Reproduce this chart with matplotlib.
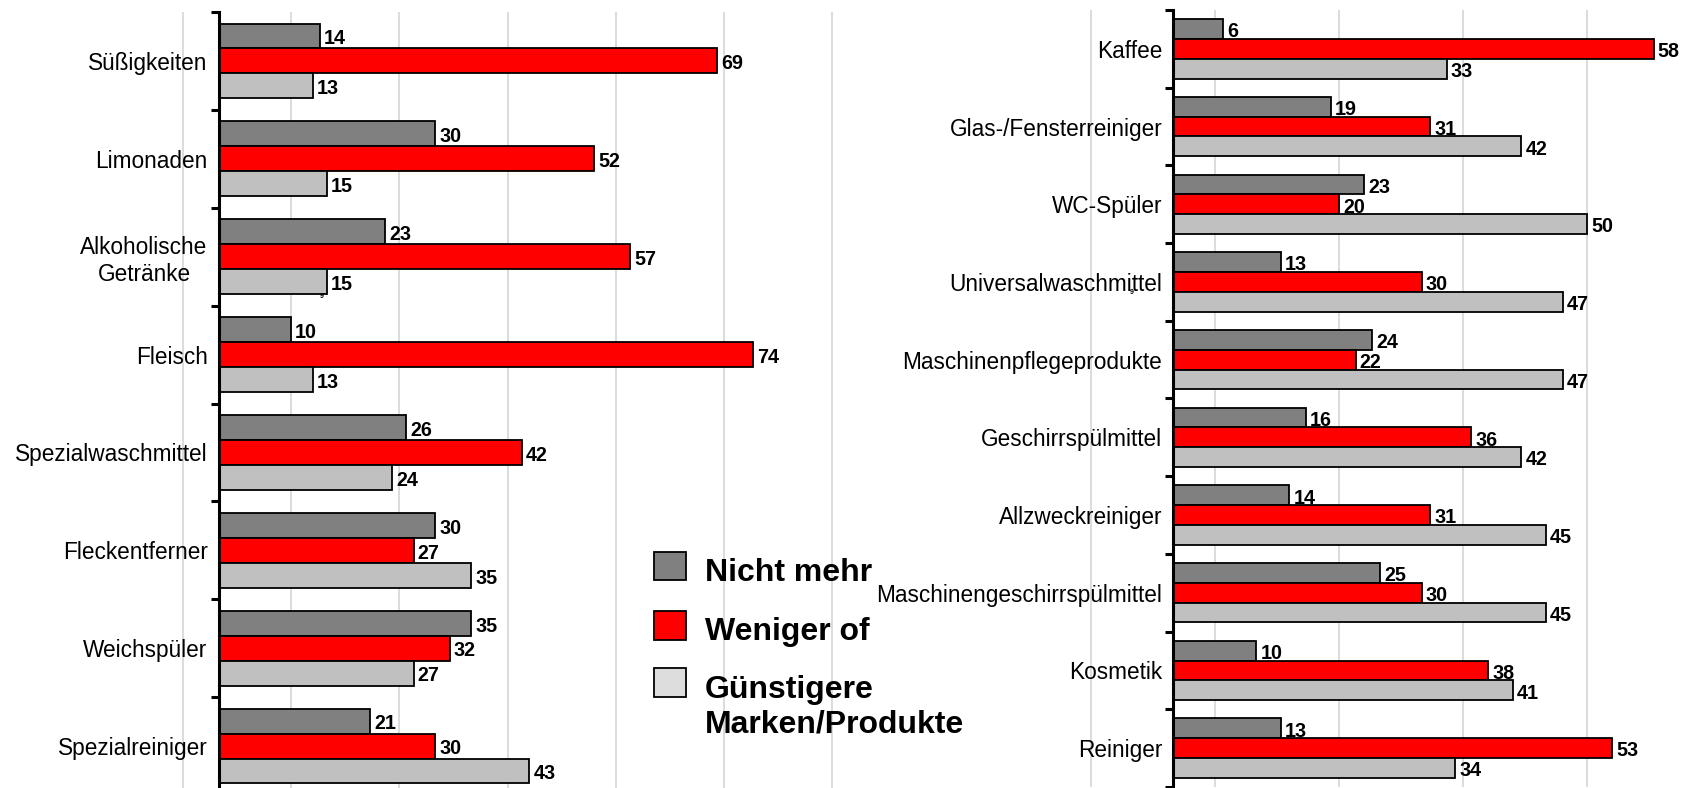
import numpy as np
import matplotlib
matplotlib.use('Agg')
from matplotlib import pyplot as plt
from matplotlib.patches import Patch, Rectangle
from matplotlib.legend_handler import HandlerPatch

plt.rcParams['font.family'] = ['Liberation Sans', 'DejaVu Sans']

# left panel
left_cats = ['Süßigkeiten', 'Limonaden', 'Alkoholische\nGetränke', 'Fleisch',
             'Spezialwaschmittel', 'Fleckentferner', 'Weichspüler', 'Spezialreiniger']
left_nicht_mehr = [14, 30, 23, 10, 26, 30, 35, 21]
left_weniger = [69, 52, 57, 74, 42, 27, 32, 30]
left_guenstiger = [13, 15, 15, 13, 24, 35, 27, 43]

# right panel
right_cats = ['Kaffee', 'Glas-/Fensterreiniger', 'WC-Spüler', 'Universalwaschmittel',
              'Maschinenpflegeprodukte', 'Geschirrspülmittel', 'Allzweckreiniger',
              'Maschinengeschirrspülmittel', 'Kosmetik', 'Reiniger']
right_nicht_mehr = [6, 19, 23, 13, 24, 16, 14, 25, 10, 13]
right_weniger = [58, 31, 20, 30, 22, 36, 31, 30, 38, 53]
right_guenstiger = [33, 42, 50, 47, 47, 42, 45, 45, 41, 34]

series_names = ['Nicht mehr', 'Weniger of', 'Günstigere\nMarken/Produkte']
bar_colors = ['#808080', '#FF0000', '#C0C0C0']
legend_colors = ['#808080', '#FF0000', '#DDDDDD']

W, H = 1700, 788
fig = plt.figure(figsize=(W / 100, H / 100), dpi=100)


def panel(px_left, px_top, px_right, px_bottom, xlim, grid_ticks, cats, series):
    ax = fig.add_axes([px_left / W, 1 - px_bottom / H,
                       (px_right - px_left) / W, (px_bottom - px_top) / H])
    n = len(cats)
    y = np.arange(n)
    h = 0.255
    for i, vals in enumerate(series):
        yy = y + (i - 1) * h
        ax.barh(yy, vals, height=h, color=bar_colors[i], edgecolor='black',
                linewidth=1.3, zorder=3)
        for v, yv in zip(vals, yy):
            ax.annotate(str(v), (v, yv), xytext=(3, -2), textcoords='offset points',
                        ha='left', va='center', fontsize=14.2, fontweight='bold',
                        zorder=4)
    ax.set_xlim(*xlim)
    ax.set_ylim(n - 0.5, -0.5)
    ax.set_xticks(grid_ticks)
    ax.tick_params(axis='x', length=0, labelbottom=False)
    ax.grid(axis='x', color='#D9D9D9', linewidth=1.3, zorder=0)
    for s in ['top', 'right', 'bottom']:
        ax.spines[s].set_visible(False)
    ax.spines['left'].set_position(('data', 0))
    ax.spines['left'].set_linewidth(2.2)
    ax.spines['left'].set_zorder(5)
    ax.set_yticks(y)
    ax.set_yticklabels(cats, fontsize=16.3)
    ax.tick_params(axis='y', which='major', length=0, pad=8)
    ax.set_yticks(np.arange(n + 1) - 0.5, minor=True)
    ax.tick_params(axis='y', which='minor', length=6, width=2.2, direction='out')
    for lab in ax.get_yticklabels():
        lab.set_multialignment('center')
    ax.patch.set_alpha(0)
    return ax


ax1 = panel(161, 12, 854, 795, (-8, 88), np.arange(-5, 90, 15), left_cats,
            [left_nicht_mehr, left_weniger, left_guenstiger])
ax2 = panel(1074, 10, 1695, 787, (-12, 63), np.arange(-10, 60, 15), right_cats,
            [right_nicht_mehr, right_weniger, right_guenstiger])


def shifted_square(shift):
    def make(legend, orig_handle, xdescent, ydescent, width, height, fontsize):
        return Rectangle((-xdescent, -ydescent + shift), width, height)
    return HandlerPatch(patch_func=make)


handles = [Patch(facecolor=c, edgecolor='black', linewidth=1.3) for c in legend_colors]
handler_map = {handles[0]: shifted_square(3), handles[1]: shifted_square(3),
               handles[2]: shifted_square(18)}
fig.legend(handles, series_names, loc='upper left', bbox_to_anchor=(625 / W, 1 - 527 / H),
           frameon=False, prop={'size': 23, 'weight': 'bold'}, handler_map=handler_map,
           handlelength=1.0, handleheight=1.0, handletextpad=0.6, labelspacing=0.85)

# small page-number artefacts from the source slide
fig.text(322 / W, 1 - 296 / H, '9', fontsize=5, fontweight='bold', ha='center', va='center')
fig.text(1132 / W, 1 - 293 / H, '9', fontsize=5, fontweight='bold', ha='center', va='center')

fig.savefig('out.png', dpi=100)
